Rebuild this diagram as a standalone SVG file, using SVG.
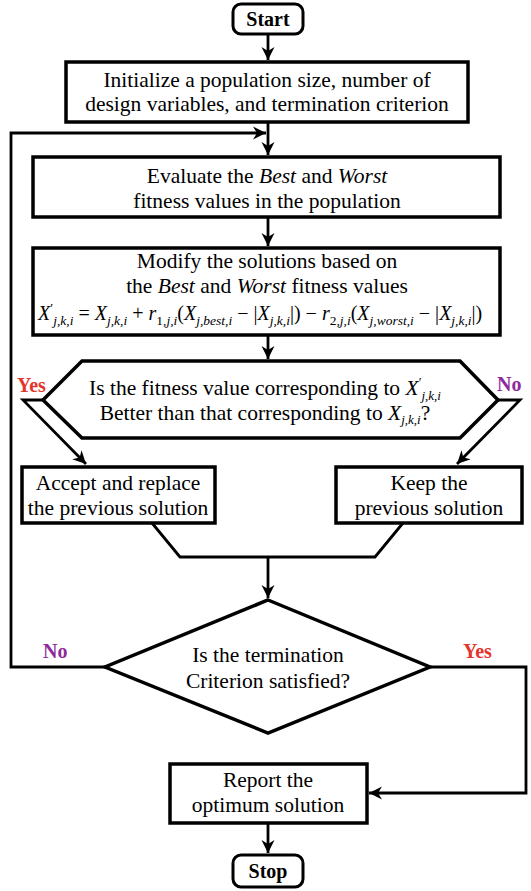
<svg xmlns="http://www.w3.org/2000/svg" width="531" height="891" viewBox="0 0 531 891">
<style>
  .box { fill: #fff; stroke: #000; stroke-width: 3.5; }
  .term { fill: #fff; stroke: #000; stroke-width: 3; }
  .t { font-family: "Liberation Serif", "Times New Roman", serif; font-size: 21.5px; fill: #000; text-anchor: middle; }
  .b { font-family: "Liberation Serif", "Times New Roman", serif; font-size: 20px; font-weight: bold; }
  .f { font-family: "Liberation Serif", "Times New Roman", serif; font-size: 20px; fill: #000; }
  .s { font-size: 13.5px; }
  .i { font-style: italic; }
  .yes { fill: #e5352b; }
  .no { fill: #8e2a9c; }
  .c { fill: none; stroke: #000; stroke-width: 2.8; stroke-linejoin: miter; }
</style>
<defs>
  <marker id="ah" markerUnits="userSpaceOnUse" markerWidth="14" markerHeight="14" refX="13" refY="7" orient="auto">
    <path d="M0,0.5 L13,7 L0,13.5 L4,7 z" fill="#000"/>
  </marker>
</defs>

<g id="connectors">
  <path class="c" d="M268,34 V60" marker-end="url(#ah)"/>
  <path class="c" d="M268,122 V155" marker-end="url(#ah)"/>
  <path class="c" d="M105,667 H11 V133 H266" marker-end="url(#ah)"/>
  <path class="c" d="M268,217 V246" marker-end="url(#ah)"/>
  <path class="c" d="M268,335 V359" marker-end="url(#ah)"/>
  <path class="c" d="M43,400 H23 L86,464" marker-end="url(#ah)"/>
  <path class="c" d="M498,400 H520 L457,464" marker-end="url(#ah)"/>
  <path class="c" d="M152,523 L180,557 H375 L403,523"/>
  <path class="c" d="M268,557 V598" marker-end="url(#ah)"/>
  <path class="c" d="M430,667 H526 V793 H369" marker-end="url(#ah)"/>
  <path class="c" d="M268,823 V853" marker-end="url(#ah)"/>
  <text class="b yes" x="17" y="392">Yes</text>
  <text class="b no" x="497" y="391">No</text>
  <text class="b no" x="43" y="658">No</text>
  <text class="b yes" x="463" y="658">Yes</text>
</g>

<g id="start">
  <rect class="term" x="233" y="4" width="70" height="30" rx="8"/>
  <text class="b" x="268" y="26" text-anchor="middle">Start</text>
</g>

<g id="init">
  <rect class="box" x="66" y="62" width="402" height="60"/>
  <text class="t" x="267" y="87">Initialize a population size, number of</text>
  <text class="t" x="267" y="111">design variables, and termination criterion</text>
</g>

<g id="evaluate">
  <rect class="box" x="33" y="157" width="467" height="60"/>
  <text class="t" x="267" y="183">Evaluate the <tspan class="i">Best</tspan> and <tspan class="i">Worst</tspan></text>
  <text class="t" x="267" y="208">fitness values in the population</text>
</g>

<g id="modify">
  <rect class="box" x="33" y="248" width="467" height="87"/>
  <text class="t" x="267" y="268">Modify the solutions based on</text>
  <text class="t" x="267" y="293">the <tspan class="i">Best</tspan> and <tspan class="i">Worst</tspan> fitness values</text>
  <text class="f" x="38" y="320"><tspan class="i">X</tspan><tspan class="s" dy="-8">′</tspan><tspan class="i s" dy="13">j,k,i</tspan><tspan dy="-5"> = </tspan><tspan class="i">X</tspan><tspan class="i s" dy="5">j,k,i</tspan><tspan dy="-5"> + </tspan><tspan class="i">r</tspan><tspan class="s" dy="5">1,<tspan class="i">j,i</tspan></tspan><tspan dy="-5">(</tspan><tspan class="i">X</tspan><tspan class="i s" dy="5">j,best,i</tspan><tspan dy="-5"> − |</tspan><tspan class="i">X</tspan><tspan class="i s" dy="5">j,k,i</tspan><tspan dy="-5">|) − </tspan><tspan class="i">r</tspan><tspan class="s" dy="5">2,<tspan class="i">j,i</tspan></tspan><tspan dy="-5">(</tspan><tspan class="i">X</tspan><tspan class="i s" dy="5">j,worst,i</tspan><tspan dy="-5"> − |</tspan><tspan class="i">X</tspan><tspan class="i s" dy="5">j,k,i</tspan><tspan dy="-5">|)</tspan></text>
</g>

<g id="decision1">
  <polygon class="box" points="43,400 82,361 460,361 498,400 460,438 82,438"/>
  <text class="t" x="265" y="395">Is the fitness value corresponding to <tspan class="i">X</tspan><tspan font-size="13" dy="-9">′</tspan><tspan class="i" font-size="13" dy="14">j,k,i</tspan></text>
  <text class="t" x="265" y="420">Better than that corresponding to <tspan class="i">X</tspan><tspan class="i" font-size="13" dy="4">j,k,i</tspan><tspan dy="-4">?</tspan></text>
</g>

<g id="accept">
  <rect class="box" x="22" y="467" width="193" height="56"/>
  <text class="t" x="118" y="490">Accept and replace</text>
  <text class="t" x="118" y="515">the previous solution</text>
</g>

<g id="keep">
  <rect class="box" x="336" y="467" width="186" height="56"/>
  <text class="t" x="429" y="490">Keep the</text>
  <text class="t" x="429" y="515">previous solution</text>
</g>

<g id="decision2">
  <polygon class="box" points="268,600 430,667 268,733 105,667"/>
  <text class="t" x="268" y="662">Is the termination</text>
  <text class="t" x="268" y="688">Criterion satisfied?</text>
</g>

<g id="report">
  <rect class="box" x="170" y="764" width="197" height="59"/>
  <text class="t" x="268" y="787">Report the</text>
  <text class="t" x="268" y="812">optimum solution</text>
</g>

<g id="stop">
  <rect class="term" x="233" y="855" width="70" height="32" rx="8"/>
  <text class="b" x="268" y="878" text-anchor="middle">Stop</text>
</g>
</svg>
